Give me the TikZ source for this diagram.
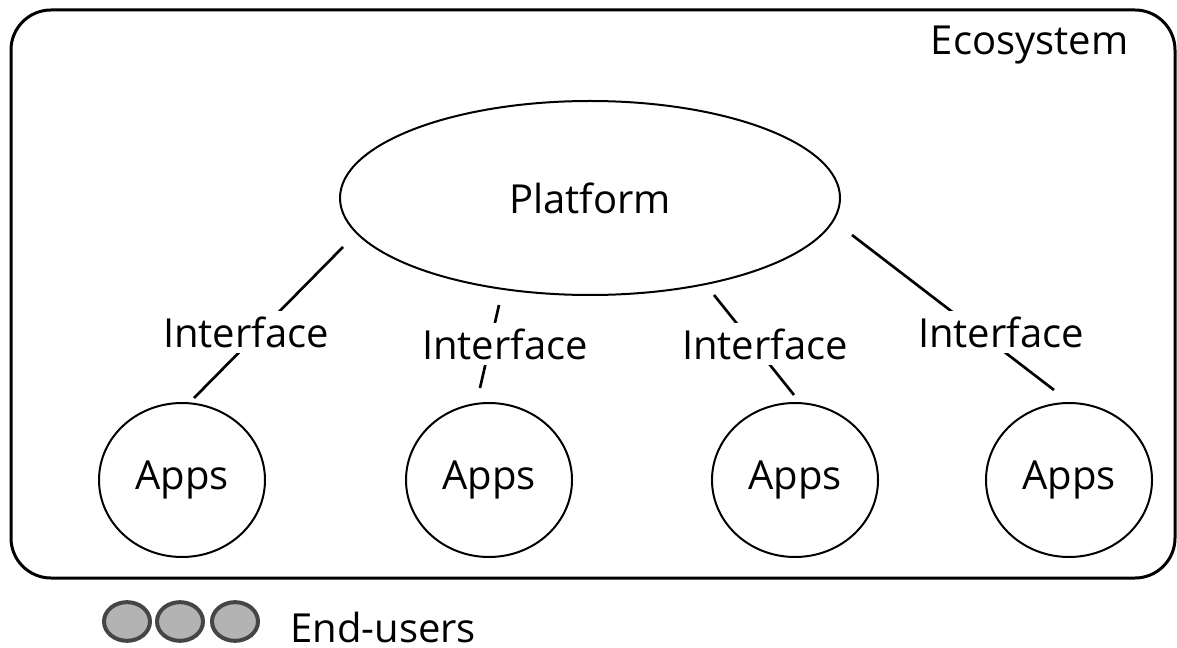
\documentclass[tikz,border=0pt]{standalone}
\usepackage{fontspec}
\setmainfont{Open Sans}
\usetikzlibrary{shapes.geometric}
\definecolor{dotfill}{HTML}{B3B3B3}
\definecolor{dotline}{HTML}{454545}
\begin{document}
\begin{tikzpicture}[x=0.75pt,y=-0.75pt,
  every node/.style={font=\fontsize{30}{36}\selectfont},
  frame/.style={draw=black,line width=2.25pt,rounded corners=30pt},
  bubble/.style={draw=black,line width=1.5pt,ellipse,inner sep=0pt},
  link/.style={draw=black,line width=2pt},
  tag/.style={fill=white,inner sep=4pt},
  dot/.style={draw=dotline,fill=dotfill,line width=3pt,ellipse,inner sep=0pt,minimum width=34.5pt,minimum height=29pt}]
\useasboundingbox (0,0) rectangle (1177,648);

% ecosystem frame
\draw[frame] (11,10) rectangle (1175,578);
\node[anchor=east] (eco) at (1133,45) {Ecosystem};

% platform and apps
\node[bubble,minimum width=375pt,minimum height=145.5pt] (plat) at (590,198) {Platform};
\node[bubble,minimum width=124.5pt,minimum height=115.5pt] (app1) at (182,480) {Apps};
\node[bubble,minimum width=124.5pt,minimum height=115.5pt] (app2) at (489,480) {Apps};
\node[bubble,minimum width=124.5pt,minimum height=115.5pt] (app3) at (795,480) {Apps};
\node[bubble,minimum width=124.5pt,minimum height=115.5pt] (app4) at (1069,480) {Apps};

% connector ends
\coordinate (s1) at (343,247); \coordinate (e1) at (194,398);
\coordinate (s2) at (499,305); \coordinate (e2) at (480,388);
\coordinate (s3) at (714,295); \coordinate (e3) at (794,395);
\coordinate (s4) at (852,235); \coordinate (e4) at (1054,390);

\draw[link] (s1) -- (e1);
\draw[link] (s2) -- (e2);
\draw[link] (s3) -- (e3);
\draw[link] (s4) -- (e4);

\node[tag] (if1) at (246,332) {Interface};
\node[tag] (if2) at (505,344) {Interface};
\node[tag] (if3) at (765,344) {Interface};
\node[tag] (if4) at (1001,332) {Interface};

% end-users legend
\node[dot] (u1) at (127,621.5) {};
\node[dot] (u2) at (180,621.5) {};
\node[dot] (u3) at (235,621.5) {};
\node[anchor=base west,inner sep=0pt] (users) at (290,642) {End-users};
\end{tikzpicture}
\end{document}
